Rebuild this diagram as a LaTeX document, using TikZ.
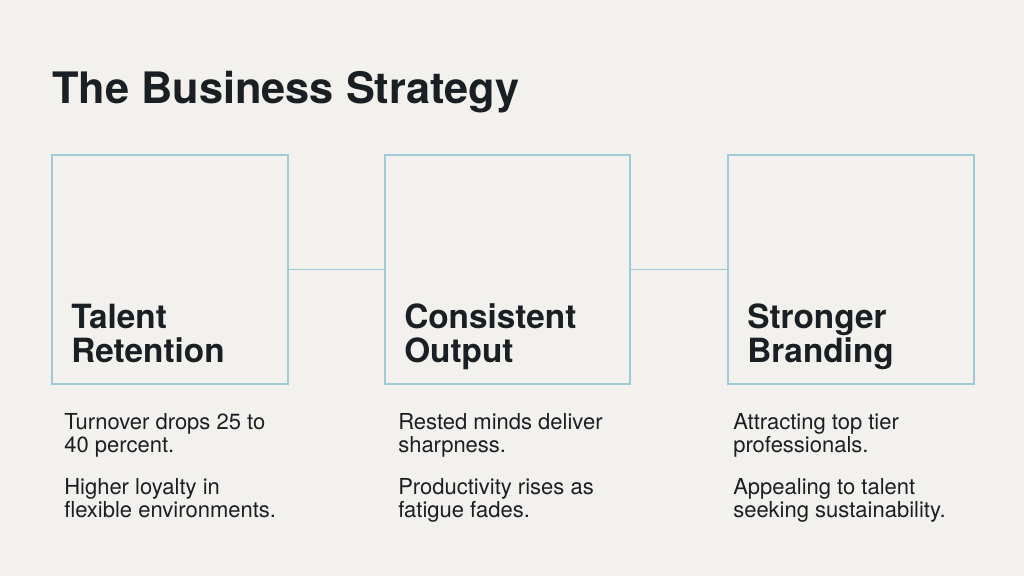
\documentclass[tikz,border=0pt]{standalone}
\usepackage{fontspec}
\setmainfont{TeX Gyre Heros}
\definecolor{bg}{RGB}{242,241,237}
\definecolor{edge}{RGB}{160,202,216}
\definecolor{ink}{RGB}{26,31,36}
\tikzset{
  card/.style={draw=edge,line width=1.1pt,inner sep=0pt,minimum height=171.75pt},
  head/.style={anchor=base west,align=left,inner sep=0pt,text=ink,font=\fontsize{25}{25.5}\selectfont\bfseries},
  body/.style={anchor=base west,align=left,inner sep=0pt,text=ink,font=\fontsize{16.5}{17.25}\selectfont}
}
\begin{document}
\begin{tikzpicture}[x=0.75pt,y=-0.75pt]
\fill[bg] (0,0) rectangle (1024,576);
\useasboundingbox (0,0) rectangle (1024,576);

\node[anchor=base west,inner sep=0pt,text=ink,font=\fontsize{32.5}{40}\selectfont\bfseries] (title) at (52,103) {The Business Strategy};

\node[card,minimum width=177pt] (talent) at (170,269.5) {};
\node[card,minimum width=183.75pt] (output) at (507.5,269.5) {};
\node[card,minimum width=184.5pt] (brand) at (851,269.5) {};

\draw[edge,line width=1.3pt] (talent.east) -- (output.west);
\draw[edge,line width=1.3pt] (output.east) -- (brand.west);

\node[head] (talenthead) at (71,362) {Talent\\Retention};
\node[head] (outputhead) at (404,362) {Consistent\\Output};
\node[head] (brandhead) at (747,362) {Stronger\\Branding};

\node[body] (talenta) at (64,452) {Turnover drops 25 to\\40 percent.};
\node[body] (talentb) at (64,517) {Higher loyalty in\\flexible environments.};
\node[body] (outputa) at (398,452) {Rested minds deliver\\sharpness.};
\node[body] (outputb) at (398,517) {Productivity rises as\\fatigue fades.};
\node[body] (branda) at (733,452) {Attracting top tier\\professionals.};
\node[body] (brandb) at (733,517) {Appealing to talent\\seeking sustainability.};
\end{tikzpicture}
\end{document}
